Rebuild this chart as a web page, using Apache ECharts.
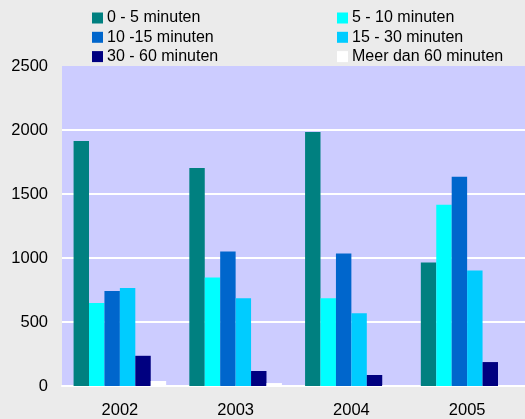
<!DOCTYPE html>
<html><head><meta charset="utf-8">
<script src="https://cdn.jsdelivr.net/npm/echarts@6/dist/echarts.min.js"></script>
<style>html,body{margin:0;padding:0;background:#EBEBEB}#c{width:525px;height:419px}</style>
</head><body><div id="c"></div>
<script>
const years = ['2002','2003','2004','2005'];
const seriesNames = ['0 - 5 minuten','5 - 10 minuten','10 -15 minuten','15 - 30 minuten','30 - 60 minuten','Meer dan 60 minuten'];
const v0_5 = [1914, 1704, 1984, 965];
const v5_10 = [648, 848, 685, 1416];
const v10_15 = [742, 1051, 1035, 1634];
const v15_30 = [765, 685, 568, 903];
const v30_60 = [236, 117, 86, 187];
const v60plus = [39, 23, 7, 6];
const yTicks = [0, 500, 1000, 1500, 2000, 2500];
const colors = ['#008080','#00FFFF','#0066CC','#00CCFF','#000080','#FFFFFF'];
const values = [v0_5, v5_10, v10_15, v15_30, v30_60, v60plus];
const font = 'Liberation Sans, Arial, sans-serif';
const chart = echarts.init(document.getElementById('c'), null, {renderer:'canvas'});
const legendCommon = {orient:'vertical', top:5, itemWidth:11, itemHeight:11, itemGap:3.3, icon:'rect',
  textStyle:{fontFamily:font, fontSize:16, color:'#000', lineHeight:14, padding:[0,0,0,-1]}, selectedMode:false};
chart.setOption({
  backgroundColor:'#EBEBEB',
  animation:false,
  color: colors,
  legend:[
    Object.assign({left:87, data:[seriesNames[0], seriesNames[2], seriesNames[4]]}, legendCommon),
    Object.assign({left:332, data:[seriesNames[1], seriesNames[3], seriesNames[5]]}, legendCommon)
  ],
  grid:{left:62, right:0, top:66, bottom:33, show:true, backgroundColor:'#CCCCFF', borderWidth:0},
  xAxis:{type:'category', data:years,
    axisLine:{show:true, lineStyle:{color:'#FFFFFF', width:2}}, axisTick:{show:false},
    axisLabel:{fontFamily:font, fontSize:16.5, color:'#000', margin:16}},
  yAxis:{type:'value', min:yTicks[0], max:yTicks[yTicks.length-1], interval:500,
    axisLine:{show:false}, axisTick:{show:false},
    axisLabel:{fontFamily:font, fontSize:16.5, color:'#000', margin:14, formatter:(v)=>String(v)},
    splitLine:{showMaxLine:false, lineStyle:{color:'#FFFFFF', width:2}}},
  series: seriesNames.map((n,i)=>({name:n, type:'bar', data:values[i], barGap:'0%', barCategoryGap:'20%',
    itemStyle:{color:colors[i]}}))
});
</script></body></html>
